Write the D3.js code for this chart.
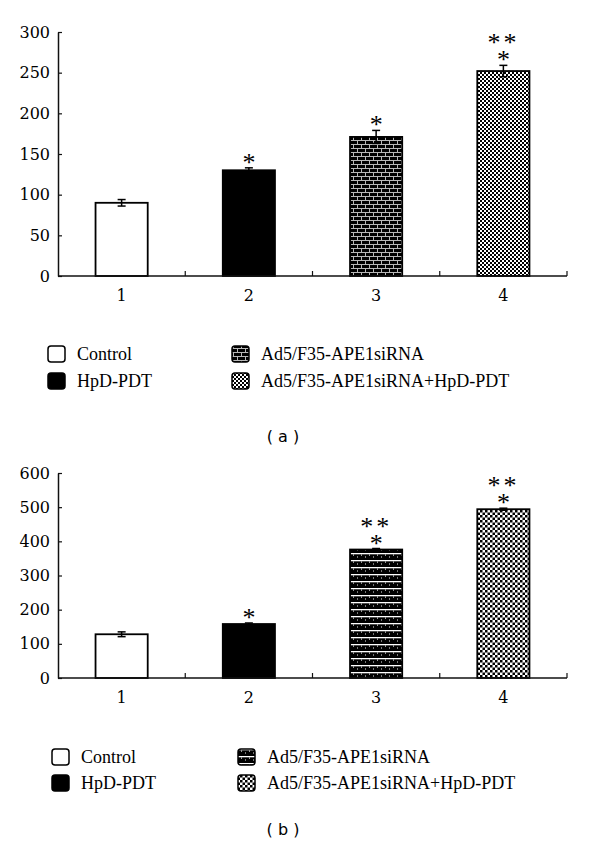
<!DOCTYPE html>
<html>
<head>
<meta charset="utf-8">
<script src="https://cdn.jsdelivr.net/npm/d3@7"></script>
<style>
  body { margin: 0; background: #fff; }
</style>
</head>
<body>
<div id="chart"></div>
<script>
// data
const groups = ["1", "2", "3", "4"];
const legendLabels = ["Control", "HpD-PDT", "Ad5/F35-APE1siRNA", "Ad5/F35-APE1siRNA+HpD-PDT"];

const valuesA = [90, 130, 171, 252];
const errorsA = [4, 3, 8, 7];
const starsA = [[], ["*"], ["*"], ["**", "*"]];
const ticksA = [0, 50, 100, 150, 200, 250, 300];

const valuesB = [128, 158, 376, 494];
const errorsB = [7, 3, 3, 3];
const starsB = [[], ["*"], ["**", "*"], ["**", "*"]];
const ticksB = [0, 100, 200, 300, 400, 500, 600];

const W = 600, H = 847;
const serif = "'Liberation Serif', 'Times New Roman', serif";
const numFont = "'DejaVu Serif', serif";

const svg = d3.select("#chart").append("svg")
    .attr("width", W)
    .attr("height", H);

const defs = svg.append("defs");

// brick pattern (panel a, bar 3)
const brickA = defs.append("pattern").attr("id", "brickA")
    .attr("patternUnits", "userSpaceOnUse").attr("width", 8).attr("height", 8);
brickA.append("rect").attr("width", 8).attr("height", 8).attr("fill", "#000");
brickA.append("rect").attr("y", 0).attr("width", 8).attr("height", 1).attr("fill", "#b8b8b8");
brickA.append("rect").attr("y", 4).attr("width", 8).attr("height", 1).attr("fill", "#b8b8b8");
brickA.append("rect").attr("x", 1).attr("y", 0).attr("width", 1).attr("height", 4).attr("fill", "#b8b8b8");
brickA.append("rect").attr("x", 5).attr("y", 4).attr("width", 1).attr("height", 4).attr("fill", "#b8b8b8");

// checker pattern (panel a, bar 4)
const checkA = defs.append("pattern").attr("id", "checkA")
    .attr("patternUnits", "userSpaceOnUse").attr("width", 4).attr("height", 4);
checkA.append("rect").attr("width", 4).attr("height", 4).attr("fill", "#fff");
checkA.append("rect").attr("width", 2).attr("height", 2).attr("fill", "#000");
checkA.append("rect").attr("x", 2).attr("y", 2).attr("width", 2).attr("height", 2).attr("fill", "#000");

// dark fill with white lines (panel b, bar 3)
const brickB = defs.append("pattern").attr("id", "brickB")
    .attr("patternUnits", "userSpaceOnUse").attr("width", 8).attr("height", 7);
brickB.append("rect").attr("width", 8).attr("height", 7).attr("fill", "#000");
brickB.append("rect").attr("y", 0).attr("width", 8).attr("height", 1.3).attr("fill", "#fff");
brickB.append("rect").attr("x", 1).attr("y", 1).attr("width", 1).attr("height", 2).attr("fill", "#999");
brickB.append("rect").attr("x", 5).attr("y", 3).attr("width", 1).attr("height", 2).attr("fill", "#777");

// checker pattern (panel b, bar 4)
const checkB = defs.append("pattern").attr("id", "checkB")
    .attr("patternUnits", "userSpaceOnUse").attr("width", 5).attr("height", 5);
checkB.append("rect").attr("width", 5).attr("height", 5).attr("fill", "#fff");
checkB.append("rect").attr("width", 2.5).attr("height", 2.5).attr("fill", "#000");
checkB.append("rect").attr("x", 2.5).attr("y", 2.5).attr("width", 2.5).attr("height", 2.5).attr("fill", "#000");

const fillsA = ["#fff", "#000", "url(#brickA)", "url(#checkA)"];
const fillsB = ["#fff", "#000", "url(#brickB)", "url(#checkB)"];

function drawPanel(cfg) {
    const g = svg.append("g");

    const x = d3.scaleBand()
        .domain(groups)
        .range([58, 567])
        .paddingInner(0.59)
        .paddingOuter(0.295);

    const y = d3.scaleLinear()
        .domain([0, cfg.ticks[cfg.ticks.length - 1]])
        .range([cfg.bottom, cfg.top]);

    // y axis, ticks point inward
    const yAxis = g.append("g")
        .attr("transform", "translate(58,0)")
        .call(d3.axisLeft(y).tickValues(cfg.ticks).tickSizeInner(-4).tickSizeOuter(0).tickPadding(8));
    yAxis.select(".domain").attr("stroke", "#111").attr("stroke-width", 1.5);
    yAxis.selectAll(".tick line").attr("stroke", "#111").attr("stroke-width", 1.2);
    yAxis.selectAll(".tick text")
        .style("font-family", numFont)
        .style("font-size", "16px")
        .attr("fill", "#000");

    // bars
    g.selectAll(".bar")
        .data(cfg.values)
        .enter().append("rect")
        .attr("class", "bar")
        .attr("x", (d, i) => x(groups[i]))
        .attr("y", d => y(d))
        .attr("width", x.bandwidth())
        .attr("height", d => y(0) - y(d))
        .attr("fill", (d, i) => cfg.fills[i])
        .attr("stroke", "#000")
        .attr("stroke-width", 1.8);

    // error bars
    const err = g.selectAll(".err")
        .data(cfg.values)
        .enter().append("g")
        .attr("class", "err")
        .attr("stroke", "#000")
        .attr("stroke-width", 1.5);
    const cx = i => x(groups[i]) + x.bandwidth() / 2;
    err.append("line")
        .attr("x1", (d, i) => cx(i)).attr("x2", (d, i) => cx(i))
        .attr("y1", (d, i) => y(d - cfg.errors[i])).attr("y2", (d, i) => y(d + cfg.errors[i]));
    err.append("line")
        .attr("x1", (d, i) => cx(i) - 4).attr("x2", (d, i) => cx(i) + 4)
        .attr("y1", (d, i) => y(d + cfg.errors[i])).attr("y2", (d, i) => y(d + cfg.errors[i]));
    err.append("line")
        .attr("x1", (d, i) => cx(i) - 4).attr("x2", (d, i) => cx(i) + 4)
        .attr("y1", (d, i) => y(d - cfg.errors[i])).attr("y2", (d, i) => y(d - cfg.errors[i]));

    // significance marks, one text per bar, stacked lines
    cfg.stars.forEach((marks, i) => {
        if (!marks.length) return;
        const base = y(cfg.values[i] + cfg.errors[i]) + 3 - (marks.length - 1) * 17;
        const t = g.append("text")
            .attr("x", cx(i))
            .attr("y", base)
            .attr("text-anchor", "middle")
            .style("font-family", serif)
            .style("font-size", "26px");
        marks.forEach((m, k) => {
            t.append("tspan")
                .attr("x", cx(i))
                .attr("dy", k === 0 ? 0 : 17)
                .attr("letter-spacing", m.length > 1 ? 3 : 0)
                .text(m);
        });
    });

    // x axis
    g.append("line")
        .attr("x1", 58).attr("x2", 567)
        .attr("y1", y(0)).attr("y2", y(0))
        .attr("stroke", "#111").attr("stroke-width", 1.5);
    g.selectAll(".xtick")
        .data(groups)
        .enter().append("line")
        .attr("class", "xtick")
        .attr("x1", (d, i) => 58 + (i + 1) * x.step())
        .attr("x2", (d, i) => 58 + (i + 1) * x.step())
        .attr("y1", y(0)).attr("y2", y(0) - 5)
        .attr("stroke", "#111").attr("stroke-width", 1.2);
    g.selectAll(".xlabel")
        .data(groups)
        .enter().append("text")
        .attr("class", "xlabel")
        .attr("x", d => x(d) + x.bandwidth() / 2)
        .attr("y", y(0) + 25)
        .attr("text-anchor", "middle")
        .style("font-family", numFont)
        .style("font-size", "16px")
        .text(d => d);

    // legend
    legendLabels.forEach((lab, i) => {
        const col = Math.floor(i / 2), row = i % 2;
        const bx = cfg.legend.x[col], by = cfg.legend.y[row];
        g.append("rect")
            .attr("x", bx).attr("y", by)
            .attr("width", 17).attr("height", 16)
            .attr("rx", 3)
            .attr("fill", cfg.fills[i])
            .attr("stroke", "#000").attr("stroke-width", 1.5);
        g.append("text")
            .attr("x", bx + 29)
            .attr("y", by + 14)
            .style("font-family", serif)
            .style("font-size", "18px")
            .text(lab);
    });

    // caption
    g.append("text")
        .attr("x", 283)
        .attr("y", cfg.captionY)
        .attr("text-anchor", "middle")
        .style("font-family", "'DejaVu Sans', sans-serif")
        .style("font-size", "16px")
        .text(cfg.caption);
}

drawPanel({
    values: valuesA, errors: errorsA, stars: starsA, ticks: ticksA, fills: fillsA,
    top: 32, bottom: 276,
    legend: { x: [48, 232], y: [346, 373] },
    caption: "( a )", captionY: 442
});

drawPanel({
    values: valuesB, errors: errorsB, stars: starsB, ticks: ticksB, fills: fillsB,
    top: 473, bottom: 678,
    legend: { x: [52, 238], y: [749, 775] },
    caption: "( b )", captionY: 835
});
</script>
</body>
</html>
